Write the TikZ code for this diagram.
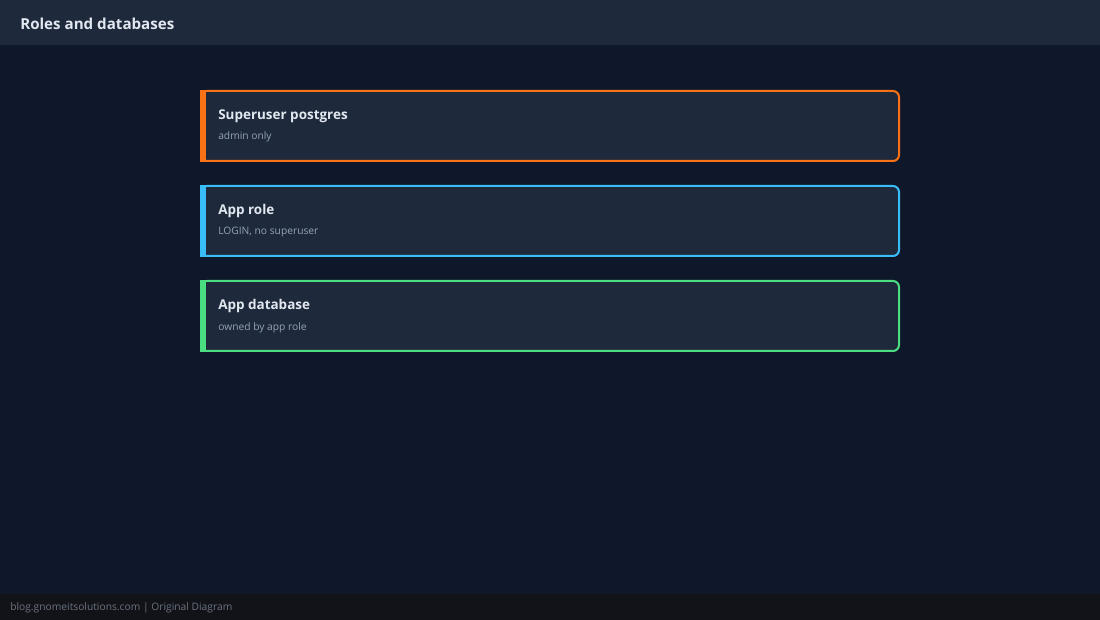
\documentclass[tikz,border=0pt]{standalone}
\usepackage{fontspec}
\setmainfont{Open Sans}
\usetikzlibrary{positioning}

\definecolor{pagebg}{HTML}{0F172A}
\definecolor{headbg}{HTML}{1E293B}
\definecolor{footbg}{HTML}{111318}
\definecolor{cardbg}{HTML}{1E293B}
\definecolor{titletxt}{HTML}{E2E8F0}
\definecolor{subtxt}{HTML}{94A3B8}
\definecolor{foottxt}{HTML}{6B7280}
\definecolor{roleorange}{HTML}{F97316}
\definecolor{roleblue}{HTML}{38BDF8}
\definecolor{rolegreen}{HTML}{4ADE80}

\tikzset{
  card/.style={draw=#1, fill=cardbg, line width=1.5pt, rounded corners=4.5pt,
    minimum width=523.5pt, minimum height=52.5pt, inner sep=0pt},
  cardtitle/.style={anchor=base west, inner sep=0pt, text=titletxt, font=\fontsize{10.1}{12}\selectfont\bfseries},
  cardsub/.style={anchor=base west, inner sep=0pt, text=subtxt, font=\fontsize{7.7}{9}\selectfont}
}

\begin{document}
\begin{tikzpicture}[x=0.75pt,y=0.75pt,yscale=-1,xscale=1]
%set diagram left start at 0, and has size 1100 x 620
\useasboundingbox (0,0) rectangle (1100,620);

%Shape: page background
\fill[pagebg] (0,0) rectangle (1100,620);
%Shape: header bar
\fill[headbg] (0,0) rectangle (1100,45);
%Shape: footer bar
\fill[footbg] (0,594) rectangle (1100,620);

% Text Node
\node (head) [anchor=base west, inner sep=0pt, text=titletxt, font=\fontsize{11.35}{13}\selectfont\bfseries] at (20,29.5) {Roles and databases};

%Shape: Card superuser
\node (super) [card=roleorange] at (550,126) {};
\fill[roleorange] (super.north west) rectangle ([xshift=4.5pt]super.south west);
%Shape: Card app role
\node (approle) [card=roleblue, below=17.25pt of super] {};
\fill[roleblue] (approle.north west) rectangle ([xshift=4.5pt]approle.south west);
%Shape: Card app database
\node (appdb) [card=rolegreen, below=17.25pt of approle] {};
\fill[rolegreen] (appdb.north west) rectangle ([xshift=4.5pt]appdb.south west);

% Text Node
\node (supertitle) [cardtitle] at (218,119.5) {Superuser postgres};
% Text Node
\node (supersub) [cardsub] at (218,140) {admin only};
% Text Node
\node (approletitle) [cardtitle] at (218,214.5) {App role};
% Text Node
\node (approlesub) [cardsub] at (218,235) {LOGIN, no superuser};
% Text Node
\node (appdbtitle) [cardtitle] at (218,309.5) {App database};
% Text Node
\node (appdbsub) [cardsub] at (218,330) {owned by app role};

% Text Node
\node (foot) [anchor=base west, inner sep=0pt, text=foottxt, font=\fontsize{7.7}{9}\selectfont] at (10,610) {blog.gnomeitsolutions.com | Original Diagram};

\end{tikzpicture}
\end{document}
